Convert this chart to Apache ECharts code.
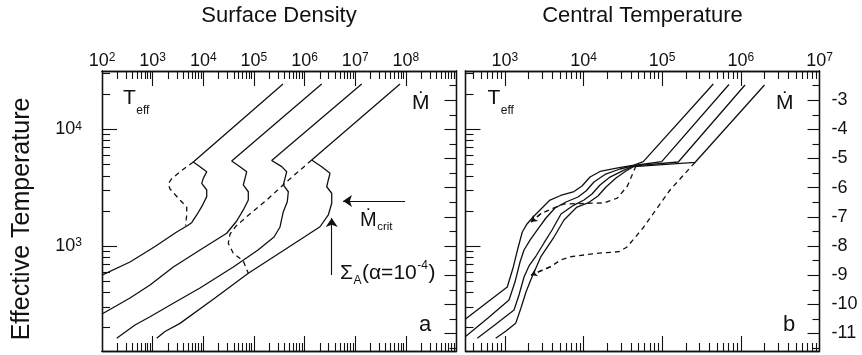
<!DOCTYPE html>
<html><head><meta charset="utf-8">
<script src="https://cdn.jsdelivr.net/npm/echarts@6/dist/echarts.min.js"></script>
<style>html,body{margin:0;padding:0;background:#fff}#c{width:862px;height:355px}</style>
</head><body><div id="c"></div>
<script>
// ---------- titles and tick labels ----------
const panelTitles = ['Surface Density', 'Central Temperature'];
const yTitle = 'Effective Temperature';
const sigmaLabelExps = [2, 3, 4, 5, 6, 7, 8];
const sigmaMajorExps = [3, 4, 5, 6, 7, 8];
const tcLabelExps = [3, 4, 5, 6, 7];
const tcMajorExps = [3, 4, 5, 6];
const teffLabelExps = [3, 4];
const mdotLabels = [-3, -4, -5, -6, -7, -8, -9, -10, -11];
const mdotHalfTicks = [-11.5, -10.5, -9.5, -8.5, -7.5, -6.5, -5.5, -4.5, -3.5, -2.5];
const minorMultipliers = [2, 3, 4, 5, 6, 7, 8, 9];

// ---------- panel a: [log10 Sigma, log10 Teff] ----------
const sigmaCurve1 = [[2.00,2.75],[2.553,2.863],[3.047,2.996],[3.475,3.12],[3.659,3.167],[3.771,3.20],
  [3.870,3.266],[3.969,3.337],[4.068,3.423],[4.068,3.48],[3.969,3.537],[4.0,3.58],[4.068,3.637],[3.935,3.68],[3.803,3.72],
  [5.574,4.389]];
const sigmaCurve1Dashed = [[3.803,3.72],[3.540,3.637],[3.363,3.57],[3.309,3.531],[3.343,3.489],[3.540,3.394],[3.673,3.334],[3.673,3.266],[3.649,3.175]];
const sigmaCurve2 = [[2.00,2.417],[2.553,2.554],[2.948,2.666],[3.408,2.82],[3.935,2.966],[4.462,3.109],[4.660,3.214],
  [4.790,3.309],[4.889,3.394],[4.889,3.465],[4.790,3.523],[4.824,3.58],[4.857,3.637],[4.725,3.68],[4.561,3.729],
  [6.338,4.389]];
const sigmaCurve3 = [[2.290,2.209],[2.652,2.323],[2.948,2.394],[3.408,2.509],[3.935,2.64],[4.593,2.82],[5.081,2.966],[5.397,3.077],[5.515,3.163],
  [5.580,3.294],[5.659,3.38],[5.679,3.465],[5.580,3.523],[5.614,3.58],[5.647,3.637],[5.549,3.68],[5.351,3.733],
  [7.128,4.389]];
const sigmaCurve4 = [[3.080,2.209],[3.244,2.267],[3.540,2.337],[4.231,2.554],[4.889,2.766],[5.614,2.97],[6.305,3.165],
  [6.469,3.266],[6.536,3.366],[6.536,3.452],[6.437,3.508],[6.469,3.566],[6.502,3.623],[6.338,3.68],[6.141,3.737],
  [7.885,4.389]];
const sigmaCurve4Dashed = [[6.141,3.737],[5.647,3.551],[5.252,3.394],[4.857,3.251],[4.646,3.171],[4.528,3.103],[4.494,3.023],[4.593,2.9375],[4.790,2.871],[4.889,2.766]];
const mdotCritArrow = [[7.983,3.386],[6.759,3.386]];
const sigmaAArrow = [[6.536,2.751],[6.536,3.24]];

// ---------- panel b: [log10 Tc, log10 Teff] ----------
const tcCurveA = [[2.5,2.374],[2.761,2.51],[3.031,2.649],[3.104,2.811],[3.167,2.983],[3.222,3.12],[3.282,3.189],[3.371,3.257],[3.460,3.317],
  [3.574,3.394],[3.710,3.433],[3.879,3.467],[3.981,3.514],[4.083,3.591],[4.210,3.639],[4.438,3.669],[4.642,3.694],[4.760,3.723],[5.650,4.389]];
const tcCurveB = [[2.5,2.224],[2.786,2.383],[3.053,2.537],[3.129,2.691],[3.193,2.863],[3.244,2.966],[3.320,3.051],[3.422,3.146],[3.523,3.24],
  [3.638,3.326],[3.778,3.377],[3.930,3.42],[4.032,3.471],[4.133,3.549],[4.273,3.613],[4.464,3.66],[4.642,3.69],[4.994,3.723],[5.849,4.384]];
const tcCurveC = [[2.65,2.209],[2.888,2.331],[3.117,2.451],[3.180,2.58],[3.244,2.734],[3.307,2.829],[3.396,2.914],[3.498,3.026],[3.6,3.137],
  [3.714,3.274],[3.879,3.351],[4.006,3.394],[4.108,3.446],[4.210,3.523],[4.337,3.591],[4.515,3.651],[4.642,3.686],[5.205,3.72],[6.053,4.38]];
const tcCurveD = [[2.884,2.209],[3.015,2.271],[3.138,2.337],[3.205,2.469],[3.269,2.606],[3.329,2.709],[3.456,2.906],[3.625,3.077],[3.752,3.223],
  [3.917,3.334],[4.057,3.369],[4.184,3.429],[4.286,3.506],[4.413,3.583],[4.540,3.643],[4.642,3.681],[5.417,3.716],[6.301,4.38]];
const tcDashed1 = [[4.667,3.686],[4.557,3.512],[4.430,3.411],[4.260,3.369],[3.955,3.364],[3.752,3.36],[3.625,3.326],[3.460,3.279],[3.333,3.206]];
const tcDashed2 = [[5.417,3.716],[5.10,3.48],[4.756,3.154],[4.553,2.991],[4.451,2.951],[4.172,2.9375],[3.837,2.908],[3.710,2.88],[3.583,2.823],[3.333,2.751]];

// ---------- styling ----------
const FONT = '"Liberation Sans", Arial, Helvetica, sans-serif';
const INK = '#111';

function logMinors(lo, hi) {
  const out = [];
  for (let n = Math.floor(lo); n < hi; n++) {
    for (const k of minorMultipliers) {
      const v = n + Math.log10(k);
      if (v > lo + 1e-6 && v < hi - 1e-6) out.push(v);
    }
  }
  return out;
}

const powRich = {
  b: {fontSize: 18, lineHeight: 18, fontFamily: FONT, color: INK},
  s: {fontSize: 12, lineHeight: 10, verticalAlign: 'top', fontFamily: FONT, color: INK}
};
const powFmt = v => '{b|10}{s|' + Math.round(v) + '}';

function axis(o) {
  const a = {
    type: 'value', gridIndex: o.grid, position: o.pos, min: o.min, max: o.max,
    axisLine: {show: true, onZero: false, lineStyle: {color: INK, width: 1.3}},
    splitLine: {show: false}, splitArea: {show: false},
    axisTick: {show: true, inside: true, length: o.len, customValues: o.ticks, lineStyle: {color: INK, width: 1.1}},
    axisLabel: {show: false},
    axisPointer: {show: false},
    silent: true
  };
  if (o.labels) {
    a.axisLabel = Object.assign({show: true, customValues: o.labels, color: INK, fontFamily: FONT,
      showMinLabel: true, showMaxLabel: true, hideOverlap: false}, o.labelOpt);
  }
  return a;
}

const xAxes = [
  axis({grid: 0, pos: 'top', min: 2, max: 9, len: 15, ticks: sigmaMajorExps, labels: sigmaLabelExps,
    labelOpt: {formatter: powFmt, rich: powRich, margin: 1}}),
  axis({grid: 0, pos: 'top', min: 2, max: 9, len: 8, ticks: logMinors(2, 9)}),
  axis({grid: 0, pos: 'bottom', min: 2, max: 9, len: 15, ticks: sigmaMajorExps}),
  axis({grid: 0, pos: 'bottom', min: 2, max: 9, len: 8, ticks: logMinors(2, 9)}),
  axis({grid: 1, pos: 'top', min: 2.5, max: 7, len: 15, ticks: tcMajorExps, labels: tcLabelExps,
    labelOpt: {formatter: powFmt, rich: powRich, margin: 1}}),
  axis({grid: 1, pos: 'top', min: 2.5, max: 7, len: 8, ticks: logMinors(2.5, 7)}),
  axis({grid: 1, pos: 'bottom', min: 2.5, max: 7, len: 15, ticks: tcMajorExps}),
  axis({grid: 1, pos: 'bottom', min: 2.5, max: 7, len: 8, ticks: logMinors(2.5, 7)})
];
const yAxes = [
  axis({grid: 0, pos: 'left', min: 2.1, max: 4.5, len: 15, ticks: teffLabelExps, labels: teffLabelExps,
    labelOpt: {formatter: powFmt, rich: powRich, margin: 20}}),
  axis({grid: 0, pos: 'left', min: 2.1, max: 4.5, len: 8, ticks: logMinors(2.1, 4.5)}),
  axis({grid: 0, pos: 'right', min: -11.6, max: -2, len: 12, ticks: mdotLabels}),
  axis({grid: 0, pos: 'right', min: -11.6, max: -2, len: 7, ticks: mdotHalfTicks}),
  axis({grid: 1, pos: 'left', min: 2.1, max: 4.5, len: 15, ticks: teffLabelExps}),
  axis({grid: 1, pos: 'left', min: 2.1, max: 4.5, len: 8, ticks: logMinors(2.1, 4.5)}),
  axis({grid: 1, pos: 'right', min: -11.6, max: -2, len: 12, ticks: mdotLabels, labels: mdotLabels,
    labelOpt: {fontSize: 18, margin: 12, formatter: v => String(Math.round(v))}}),
  axis({grid: 1, pos: 'right', min: -11.6, max: -2, len: 7, ticks: mdotHalfTicks})
];

function line(data, ai, dashed, arrow) {
  const s = {
    type: 'line', data: data, xAxisIndex: ai, yAxisIndex: ai, symbol: 'none', showSymbol: false,
    smooth: false, animation: false, silent: true, clip: true,
    lineStyle: {color: INK, width: 1.3, type: dashed ? [5, 4] : 'solid'}
  };
  if (arrow) {
    const n = data.length;
    s.markLine = {silent: true, animation: false, symbol: ['none', 'arrow'], symbolSize: 6,
      label: {show: false}, lineStyle: {color: INK, width: 1.3, type: [5, 4]},
      data: [[{coord: data[n - 2]}, {coord: data[n - 1]}]]};
  }
  return s;
}
function arrowSeries(pts, ai) {
  return {type: 'line', data: [], xAxisIndex: ai, yAxisIndex: ai, animation: false, silent: true,
    markLine: {silent: true, animation: false, symbol: ['none', 'arrow'], symbolSize: 9,
      label: {show: false}, lineStyle: {color: INK, width: 1.1, type: 'solid'},
      data: [[{coord: pts[0]}, {coord: pts[1]}]]}};
}

const series = [
  line(sigmaCurve1, 0), line(sigmaCurve2, 0), line(sigmaCurve3, 0), line(sigmaCurve4, 0),
  line(sigmaCurve1Dashed, 0, true), line(sigmaCurve4Dashed, 0, true),
  arrowSeries(mdotCritArrow, 0), arrowSeries(sigmaAArrow, 0),
  line(tcCurveA, 4), line(tcCurveB, 4), line(tcCurveC, 4), line(tcCurveD, 4),
  line(tcDashed1, 4, true, true), line(tcDashed2, 4, true, true)
];

// ---------- text annotations (pieces placed side by side) ----------
const mctx = document.createElement('canvas').getContext('2d');
function tw(str, size) { mctx.font = size + 'px "Liberation Sans"'; return mctx.measureText(str).width; }
function piece(x, y, text, size, align, rotation) {
  return {type: 'text', x: x, y: y, rotation: rotation || 0, silent: true,
    style: {text: text, fill: INK, fontSize: size, fontFamily: FONT, align: align || 'left', verticalAlign: 'middle'}};
}
function run(x, y, parts) {
  const out = [];
  let cx = x;
  for (const [t, size, dy] of parts) {
    out.push(piece(cx, y + dy, t, size));
    cx += tw(t, size) + 0.5;
  }
  return out;
}

const graphic = [].concat(
  [piece(279, 16, panelTitles[0], 22, 'center'), piece(642.5, 16, panelTitles[1], 22, 'center'),
   piece(22, 219, yTitle, 25, 'center', Math.PI / 2)],
  run(123, 98.5, [['T', 21, 0], ['eff', 12, 12.5]]),
  run(412, 103.5, [['Ṁ', 21, 0]]),
  run(360, 220, [['Ṁ', 20, 0], ['crit', 11.5, 6.5]]),
  run(340, 273, [['Σ', 21, 0], ['A', 12, 8], ['(α=10', 21, 0], ['-4', 12, -7], [')', 21, 0]]),
  run(419, 325, [['a', 22, 0]]),
  run(487.5, 98.5, [['T', 21, 0], ['eff', 12, 12.5]]),
  run(776, 103.5, [['Ṁ', 21, 0]]),
  run(783, 325, [['b', 22, 0]])
);

const chart = echarts.init(document.getElementById('c'), null, {renderer: 'canvas'});
chart.setOption({
  animation: false,
  backgroundColor: '#fff',
  grid: [
    {left: 102, top: 71, width: 354.5, height: 280, containLabel: false, outerBoundsMode: 'none'},
    {left: 465.5, top: 71, width: 354, height: 280, containLabel: false, outerBoundsMode: 'none'}
  ],
  xAxis: xAxes,
  yAxis: yAxes,
  series: series,
  graphic: graphic
});
</script>
</body></html>
